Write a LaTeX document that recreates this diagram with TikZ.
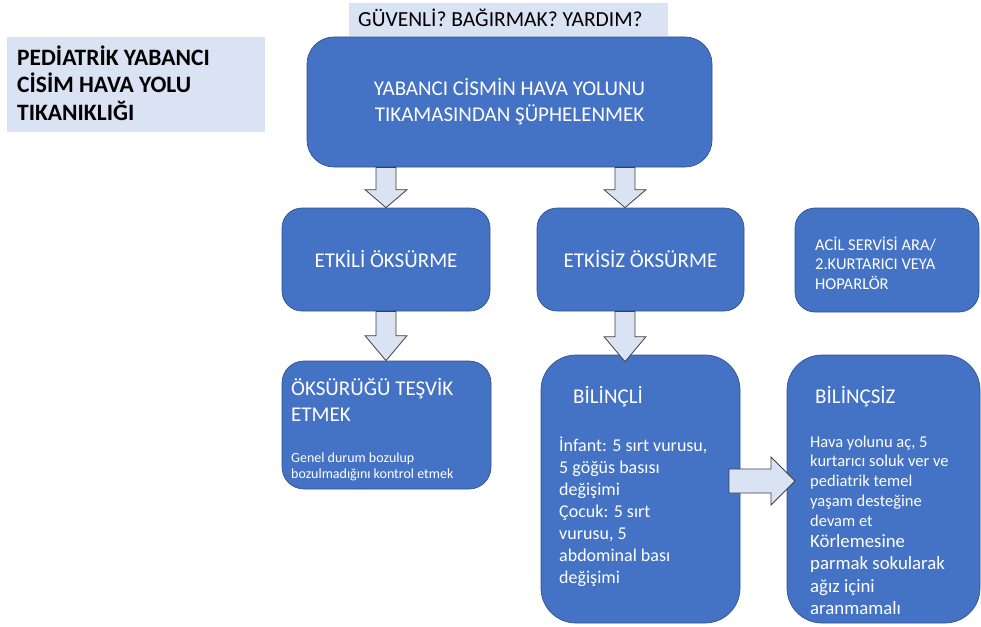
\documentclass[tikz,border=0pt]{standalone}
\usepackage{fontspec}
\setmainfont{Carlito}
\usetikzlibrary{calc}

\definecolor{boxblue}{HTML}{4472C4}
\definecolor{boxline}{HTML}{2F528F}
\definecolor{paleblue}{HTML}{DAE3F3}
\definecolor{arrowline}{HTML}{404040}

\newcommand{\setfs}[2]{\fontsize{#1}{#2}\selectfont}

\tikzset{
	bluebox/.style={draw=boxline, line width=0.7pt, fill=boxblue, text=white, rounded corners=#1, inner sep=0pt},
	bluebox/.default=20pt,
	palebox/.style={fill=paleblue, inner sep=0pt},
	boxtext/.style={anchor=base west, inner sep=0pt, align=left},
	downarrow/.style={draw=arrowline, fill=paleblue, line width=0.8pt, to path={
		let \p1=(\tikztostart), \p2=(\tikztotarget) in
		(\x1-10pt,\y1) -- (\x1+10pt,\y1) -- (\x1+10pt,\y2+#1) -- (\x1+21pt,\y2+#1)
		-- (\x1,\y2) -- (\x1-21pt,\y2+#1) -- (\x1-10pt,\y2+#1) -- cycle}},
	downarrow/.default=20pt,
	rightarrow/.style={draw=arrowline, fill=paleblue, line width=0.8pt, to path={
		let \p1=(\tikztostart), \p2=(\tikztotarget) in
		(\x1,\y1+12pt) -- (\x2-24pt,\y1+12pt) -- (\x2-24pt,\y1+24pt) -- (\x2,\y1)
		-- (\x2-24pt,\y1-24pt) -- (\x2-24pt,\y1-12pt) -- (\x1,\y1-12pt) -- cycle}}
}

\begin{document}
\begin{tikzpicture}[x=1pt,y=-1pt]
			\useasboundingbox (0,0) rectangle (981,626);
			
			\node[palebox, minimum width=258pt, minimum height=95pt] (title) at (136,84.5) {};
			\node[boxtext, font=\setfs{23.5}{27.5}\bfseries] (titletext) at (17,120) {PEDİATRİK YABANCI\\CİSİM HAVA YOLU\\TIKANIKLIĞI};
			
			\node[palebox, minimum width=319pt, minimum height=33pt] (safe) at (508.5,19.5) {};
			\node[boxtext, font=\setfs{21.5}{26}] (safetext) at (358,27) {GÜVENLİ? BAĞIRMAK? YARDIM?};
			
			\node[bluebox=27pt, minimum width=405pt, minimum height=130pt, align=center, font=\setfs{21}{26}] (main) at (509.5,102) {YABANCI CİSMİN HAVA YOLUNU\\TIKAMASINDAN ŞÜPHELENMEK};
			
			\node[bluebox, minimum width=208pt, minimum height=103pt, font=\setfs{21}{25}] (etkili) at (386,259.5) {ETKİLİ ÖKSÜRME};
			\node[bluebox, minimum width=207pt, minimum height=103pt, font=\setfs{21}{25}] (etkisiz) at (640.5,259.5) {ETKİSİZ ÖKSÜRME};
			\node[bluebox, minimum width=184pt, minimum height=104pt] (acil) at (887,260) {};
			\node[boxtext, text=white, font=\setfs{16.5}{19.5}] (aciltext) at (815,289) {ACİL SERVİSİ ARA/\\2.KURTARICI VEYA\\HOPARLÖR};
			
			\node[bluebox=22pt, minimum width=209pt, minimum height=128pt] (oksuruk) at (386.5,425) {};
			\node[boxtext, text=white, font=\setfs{21}{26}] (oksuruktext) at (291,421) {ÖKSÜRÜĞÜ TEŞVİK\\ETMEK};
			\node[boxtext, text=white, font=\setfs{14}{16}] (genel) at (291,478) {Genel durum bozulup\\bozulmadığını kontrol etmek};
			
			\node[bluebox=35pt, minimum width=199pt, minimum height=268pt] (bilincli) at (640.5,489) {};
			\node[boxtext, text=white, font=\setfs{21}{25}] (bilinclitext) at (573,403) {BİLİNÇLİ};
			\node[boxtext, text=white, font=\setfs{18}{22}] (bilinclibody) at (559,583) {İnfant: 5 sırt vurusu,\\5 göğüs basısı\\değişimi\\Çocuk: 5 sırt\\vurusu, 5\\abdominal bası\\değişimi};
			
			\node[bluebox=35pt, minimum width=193pt, minimum height=268pt] (bilincsiz) at (883.5,489) {};
			\node[boxtext, text=white, font=\setfs{21}{25}] (bilincsiztext) at (815,403) {BİLİNÇSİZ};
			\node[boxtext, text=white, font=\setfs{16.5}{19.7}] (bilincsizbody) at (810,526) {Hava yolunu aç, 5\\kurtarıcı soluk ver ve\\pediatrik temel\\yaşam desteğine\\devam et};
			\node[boxtext, text=white, font=\setfs{18.8}{22.5}] (korlemesine) at (810,614.5) {Körlemesine\\parmak sokularak\\ağız içini\\aranmamalı};
			
			\coordinate (col2) at (625,0);
			\draw[downarrow=18pt] (main.south -| etkili.north) to (etkili.north);
			\draw[downarrow=18pt] (main.south -| col2) to (etkisiz.north -| col2);
			\draw[downarrow=25pt] (etkili.south) to (oksuruk.north);
			\draw[downarrow=25pt] (etkisiz.south -| col2) to ([yshift=-7pt]bilincli.north -| col2);
			
			\coordinate (rstart) at (729,481);
			\coordinate (rtip) at (795,481);
			\draw[rightarrow] (rstart) to (rtip);
\end{tikzpicture}
\end{document}
